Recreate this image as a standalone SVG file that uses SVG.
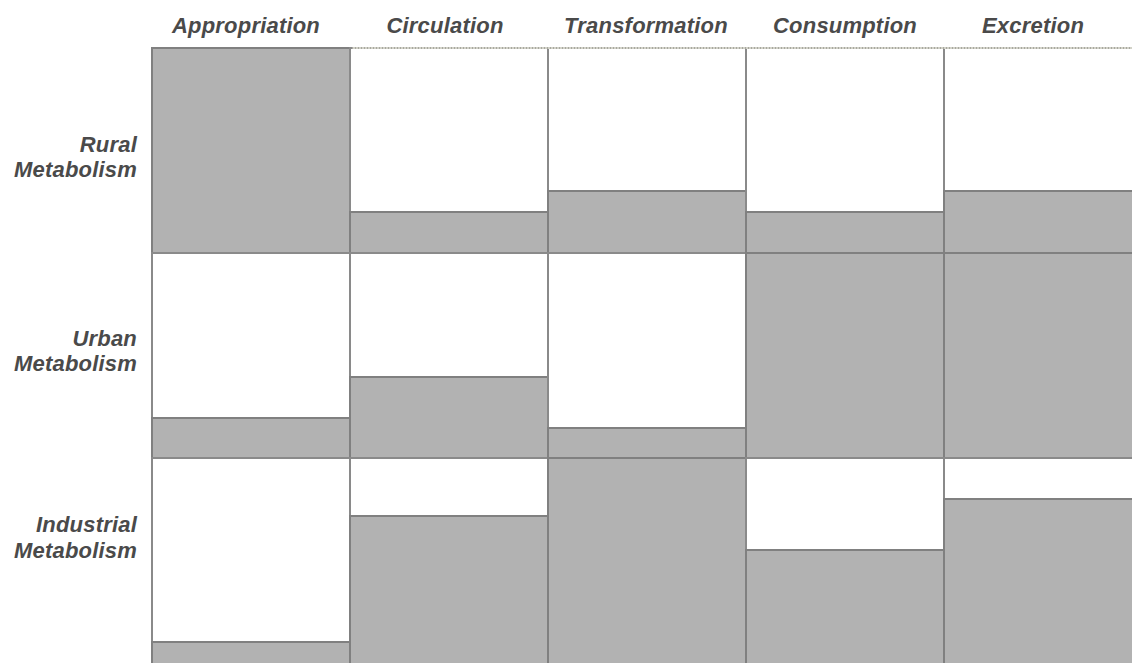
<svg xmlns="http://www.w3.org/2000/svg" width="1132" height="663" viewBox="0 0 1132 663">
<style>
.lbl{font-family:"Liberation Sans",Arial,sans-serif;font-weight:bold;font-style:italic;font-size:22px;fill:#4a4a4a;letter-spacing:0.2px}
.hdr{text-anchor:middle}
.row{text-anchor:end}
.fill{fill:#b2b2b2;stroke:#808080;stroke-width:2}
.cell{fill:#ffffff;stroke:#8a8a8a;stroke-width:2}
</style>
<rect width="1132" height="663" fill="#ffffff"/>
<g id="headers">
<text class="lbl hdr" x="246" y="33">Appropriation</text>
<text class="lbl hdr" x="445" y="33">Circulation</text>
<text class="lbl hdr" x="646" y="33">Transformation</text>
<text class="lbl hdr" x="845" y="33">Consumption</text>
<text class="lbl hdr" x="1033" y="33">Excretion</text>
</g>
<g id="row-labels">
<text class="lbl row" x="137" y="152">Rural</text>
<text class="lbl row" x="137" y="177">Metabolism</text>
<text class="lbl row" x="137" y="346">Urban</text>
<text class="lbl row" x="137" y="371">Metabolism</text>
<text class="lbl row" x="137" y="532">Industrial</text>
<text class="lbl row" x="137" y="558">Metabolism</text>
</g>
<g id="rural">
<rect class="cell" x="152" y="48" width="198" height="205"/><rect class="fill" x="152" y="48" width="198" height="205"/>
<rect class="cell" x="350" y="48" width="198" height="205"/><rect class="fill" x="350" y="212" width="198" height="41"/>
<rect class="cell" x="548" y="48" width="198" height="205"/><rect class="fill" x="548" y="191" width="198" height="62"/>
<rect class="cell" x="746" y="48" width="198" height="205"/><rect class="fill" x="746" y="212" width="198" height="41"/>
<rect class="cell" x="944" y="48" width="190" height="205"/><rect class="fill" x="944" y="191" width="190" height="62"/>
</g>
<g id="urban">
<rect class="cell" x="152" y="253" width="198" height="205"/><rect class="fill" x="152" y="418" width="198" height="40"/>
<rect class="cell" x="350" y="253" width="198" height="205"/><rect class="fill" x="350" y="377" width="198" height="81"/>
<rect class="cell" x="548" y="253" width="198" height="205"/><rect class="fill" x="548" y="428" width="198" height="30"/>
<rect class="cell" x="746" y="253" width="198" height="205"/><rect class="fill" x="746" y="253" width="198" height="205"/>
<rect class="cell" x="944" y="253" width="190" height="205"/><rect class="fill" x="944" y="253" width="190" height="205"/>
</g>
<g id="industrial">
<rect class="cell" x="152" y="458" width="198" height="206"/><rect class="fill" x="152" y="642" width="198" height="22"/>
<rect class="cell" x="350" y="458" width="198" height="206"/><rect class="fill" x="350" y="516" width="198" height="148"/>
<rect class="cell" x="548" y="458" width="198" height="206"/><rect class="fill" x="548" y="458" width="198" height="206"/>
<rect class="cell" x="746" y="458" width="198" height="206"/><rect class="fill" x="746" y="550" width="198" height="114"/>
<rect class="cell" x="944" y="458" width="190" height="206"/><rect class="fill" x="944" y="499" width="190" height="165"/>
</g>
<line x1="352" y1="48" x2="1132" y2="48" stroke="#d2d2c8" stroke-width="2"/>
<line x1="352" y1="48" x2="1132" y2="48" stroke="#a8a8a0" stroke-width="2" stroke-dasharray="1 2"/>
</svg>
